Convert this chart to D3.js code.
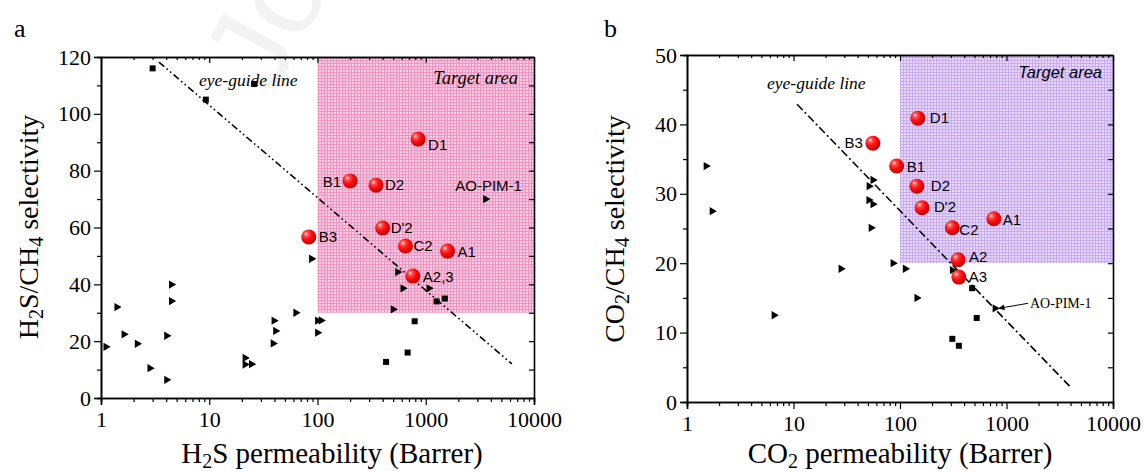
<!DOCTYPE html>
<html>
<head>
<meta charset="utf-8">
<script src="https://cdn.jsdelivr.net/npm/d3@7"></script>
<style>
  body { margin: 0; background: #fff; }
  svg { display: block; }
  text { font-family: "Liberation Serif", "Times New Roman", serif; }
  .sans { font-family: "Liberation Sans", Arial, sans-serif; }
</style>
</head>
<body>
<div class="chart"></div>
<script>
// ---- data ----
var xTicks = [1, 10, 100, 1000, 10000];

// panel a : H2S / CH4
var h2sYTicks = [0, 20, 40, 60, 80, 100, 120];
var h2sTriX = [1.11, 1.40, 1.63, 2.16, 2.83, 4.04, 4.04, 4.47, 4.47, 21.4, 21.4, 24.5, 39.6, 41, 38.9, 63, 88, 100, 108, 100, 550, 615, 1070, 500];
var h2sTriY = [18.0, 32.0, 22.4, 19.1, 10.5, 21.9, 6.4, 39.9, 34.1, 14.1, 11.8, 11.9, 27.2, 23.6, 19.2, 30.0, 49.0, 27.2, 27.3, 23.0, 44.3, 38.6, 38.6, 31.2];
var h2sSqX = [3, 9.3, 26, 1260, 1500, 790, 680, 430];
var h2sSqY = [116, 105, 110.5, 34, 35, 27, 16, 12.7];
var h2sAoX = [3570], h2sAoY = [70];
var h2sMemNames = ["D1", "B1", "D2", "D'2", "B3", "C2", "A1", "A2,3"];
var h2sMemX = [850, 200, 347, 400, 83, 650, 1590, 760];
var h2sMemY = [91.1, 76.4, 74.9, 59.8, 56.7, 53.5, 51.7, 42.9];
var h2sGuideX = [3.43, 6240], h2sGuideY = [118.2, 12.0];
var h2sTargetX = [100, 10000], h2sTargetY = [30, 120];

// panel b : CO2 / CH4
var co2YTicks = [0, 10, 20, 30, 40, 50];
var co2TriX = [1.51, 1.72, 6.56, 27.9, 51.2, 55.7, 51, 55.7, 53.5, 86, 112, 144, 310];
var co2TriY = [34.0, 27.5, 12.5, 19.2, 31.1, 32.0, 29.1, 28.5, 25.1, 20.0, 19.2, 15.0, 19.0];
var co2SqX = [476, 525, 310, 357];
var co2SqY = [16.4, 12.1, 9.1, 8.1];
var co2AoX = [780], co2AoY = [13.5];
var co2MemNames = ["D1", "B3", "B1", "D2", "D'2", "A1", "C2", "A2", "A3"];
var co2MemX = [147, 55.6, 93, 144, 161, 760, 310, 351, 357];
var co2MemY = [40.9, 37.3, 34.0, 31.1, 28.0, 26.4, 25.1, 20.5, 18.0];
var co2GuideX = [10.8, 3960], co2GuideY = [42.9, 2.2];
var co2TargetX = [100, 10000], co2TargetY = [20, 50];

// label offsets (px from sphere centre) - layout only
var h2sLabelOff = [[10, 11], [-9, 6], [9, 5], [8, 5], [10, 5], [8, 5], [10, 6], [10, 6]];
var co2LabelOff = [[12, 5], [-10, 5], [10, 6], [14, 5], [12, 4], [9, 6], [7, 7], [11, 2], [10, 5]];

var W = 1144, H = 473;
var svg = d3.select(".chart").append("svg").attr("width", W).attr("height", H);
var defs = svg.append("defs");

// faint watermark
svg.append("text")
  .attr("transform", "translate(272,98) rotate(-62)")
  .attr("font-size", 120)
  .attr("fill", "#f3f3f3")
  .style("font-family", "Liberation Sans, Arial, sans-serif")
  .text("Journal Pre-proof");

// sphere gradient
var grad = defs.append("radialGradient").attr("id", "ball")
  .attr("cx", "38%").attr("cy", "35%").attr("r", "65%").attr("fx", "32%").attr("fy", "30%");
grad.append("stop").attr("offset", "0%").attr("stop-color", "#ffe8e8");
grad.append("stop").attr("offset", "22%").attr("stop-color", "#ff5050");
grad.append("stop").attr("offset", "55%").attr("stop-color", "#ff0d0d");
grad.append("stop").attr("offset", "100%").attr("stop-color", "#c00000");

// hatched target fills
function makePattern(id, bg, line) {
  var p = defs.append("pattern").attr("id", id).attr("width", 3).attr("height", 3)
    .attr("patternUnits", "userSpaceOnUse");
  p.append("rect").attr("width", 3).attr("height", 3).attr("fill", bg);
  p.append("rect").attr("width", 3).attr("height", 1).attr("fill", line);
  p.append("rect").attr("width", 1).attr("height", 3).attr("fill", line);
}
makePattern("pinkGrid", "#fbcfe3", "#f394c3");
makePattern("purpleGrid", "#e6d9fc", "#c9acf3");

function minorTicks(lo, hi) {
  var out = [];
  for (var d = lo; d < hi; d *= 10) {
    for (var k = 2; k <= 9; k++) out.push(d * k);
  }
  return out;
}

function drawPanel(cfg) {
  var x = d3.scaleLog().domain([1, 10000]).range([cfg.left, cfg.right]);
  var y = d3.scaleLinear().domain(cfg.yDomain).range([cfg.bottom, cfg.top]);
  var g = svg.append("g");

  // target area
  g.append("rect")
    .attr("x", x(cfg.targetX[0]))
    .attr("y", y(cfg.targetY[1]))
    .attr("width", x(cfg.targetX[1]) - x(cfg.targetX[0]))
    .attr("height", y(cfg.targetY[0]) - y(cfg.targetY[1]))
    .attr("fill", "url(#" + cfg.pattern + ")");

  var yMinor = [];
  for (var i = 0; i < cfg.yTicks.length - 1; i++) yMinor.push((cfg.yTicks[i] + cfg.yTicks[i + 1]) / 2);
  var xMinor = minorTicks(1, 10000);

  // bottom axis
  g.append("g").attr("transform", "translate(0," + cfg.bottom + ")")
    .call(d3.axisBottom(x).tickValues(xMinor).tickSize(4).tickFormat(""));
  g.append("g").attr("transform", "translate(0," + cfg.bottom + ")")
    .call(d3.axisBottom(x).tickValues(xTicks).tickSize(7).tickPadding(6).tickFormat(d3.format("d")))
    .attr("font-size", 22);
  // top axis (inward)
  g.append("g").attr("transform", "translate(0," + cfg.top + ")")
    .call(d3.axisTop(x).tickValues(xMinor).tickSizeInner(-3).tickSizeOuter(0).tickFormat(""));
  g.append("g").attr("transform", "translate(0," + cfg.top + ")")
    .call(d3.axisTop(x).tickValues(xTicks).tickSizeInner(-6).tickSizeOuter(0).tickFormat(""));
  // left axis
  g.append("g").attr("transform", "translate(" + cfg.left + ",0)")
    .call(d3.axisLeft(y).tickValues(yMinor).tickSize(4).tickFormat(""));
  g.append("g").attr("transform", "translate(" + cfg.left + ",0)")
    .call(d3.axisLeft(y).tickValues(cfg.yTicks).tickSize(7).tickPadding(3))
    .attr("font-size", 22);
  // right axis (inward)
  g.append("g").attr("transform", "translate(" + cfg.right + ",0)")
    .call(d3.axisRight(y).tickValues(cfg.yTicks.concat(yMinor)).tickSizeInner(-5).tickSizeOuter(0).tickFormat(""));

  g.selectAll(".domain").attr("stroke", "#000").attr("stroke-width", 1.6);
  g.selectAll(".tick line").attr("stroke", "#000").attr("stroke-width", 1.2);
  g.selectAll(".tick text").attr("fill", "#000").style("font-family", "Liberation Serif, Times New Roman, serif");

  // eye guide line
  g.append("line")
    .attr("x1", x(cfg.guideX[0])).attr("y1", y(cfg.guideY[0]))
    .attr("x2", x(cfg.guideX[1])).attr("y2", y(cfg.guideY[1]))
    .attr("stroke", "#000").attr("stroke-width", 1.6)
    .attr("stroke-dasharray", cfg.guideDash);

  // triangles
  var tri = d3.symbol().type(d3.symbolTriangle).size(30);
  g.selectAll(".tri").data(cfg.triX.concat(cfg.aoX)).join("path")
    .attr("d", tri)
    .attr("transform", function (d, i) {
      var yy = i < cfg.triX.length ? cfg.triY[i] : cfg.aoY[i - cfg.triX.length];
      return "translate(" + x(d) + "," + y(yy) + ") rotate(90)";
    })
    .attr("fill", "#000");

  // squares
  g.selectAll(".sq").data(cfg.sqX).join("rect")
    .attr("x", function (d) { return x(d) - 3; })
    .attr("y", function (d, i) { return y(cfg.sqY[i]) - 3; })
    .attr("width", 6).attr("height", 6)
    .attr("fill", "#000");

  // membrane spheres + labels
  g.selectAll(".ball").data(cfg.memX).join("circle")
    .attr("cx", function (d) { return x(d); })
    .attr("cy", function (d, i) { return y(cfg.memY[i]); })
    .attr("r", 7.5)
    .attr("fill", "url(#ball)");
  g.selectAll(".lab").data(cfg.memNames).join("text")
    .attr("class", "sans")
    .attr("x", function (d, i) { return x(cfg.memX[i]) + cfg.labelOff[i][0]; })
    .attr("y", function (d, i) { return y(cfg.memY[i]) + cfg.labelOff[i][1]; })
    .attr("text-anchor", function (d, i) { return cfg.labelOff[i][0] < 0 ? "end" : "start"; })
    .attr("font-size", 15)
    .text(function (d) { return d; });

  return { x: x, y: y, g: g };
}

// ---- panel a ----
var pa = drawPanel({
  left: 101, right: 534, top: 57, bottom: 398,
  yDomain: [0, 120], yTicks: h2sYTicks,
  targetX: h2sTargetX, targetY: h2sTargetY, pattern: "pinkGrid",
  guideX: h2sGuideX, guideY: h2sGuideY, guideDash: "7,3,1.6,3,1.6,3",
  triX: h2sTriX, triY: h2sTriY, aoX: h2sAoX, aoY: h2sAoY,
  sqX: h2sSqX, sqY: h2sSqY,
  memNames: h2sMemNames, memX: h2sMemX, memY: h2sMemY, labelOff: h2sLabelOff
});
pa.g.append("text").attr("class", "sans").attr("x", pa.x(h2sAoX[0]) + 3).attr("y", pa.y(h2sAoY[0]) - 8)
  .attr("text-anchor", "middle").attr("font-size", 15).text("AO-PIM-1");
pa.g.append("text").attr("x", 518).attr("y", 84).attr("text-anchor", "end")
  .attr("font-size", 18.5).attr("font-style", "italic").text("Target area");
pa.g.append("text").attr("x", 199).attr("y", 86)
  .attr("font-size", 17.5).attr("font-style", "italic").text("eye-guide line");
svg.append("text").attr("x", 14).attr("y", 37).attr("font-size", 26).text("a");

var t = svg.append("text").attr("x", 332).attr("y", 463).attr("text-anchor", "middle").attr("font-size", 29);
t.append("tspan").text("H");
t.append("tspan").attr("font-size", 20).attr("dy", 5).text("2");
t.append("tspan").attr("dy", -5).text("S permeability (Barrer)");

t = svg.append("text").attr("transform", "translate(38,227) rotate(-90)").attr("text-anchor", "middle").attr("font-size", 28);
t.append("tspan").text("H");
t.append("tspan").attr("font-size", 20).attr("dy", 5).text("2");
t.append("tspan").attr("dy", -5).text("S/CH");
t.append("tspan").attr("font-size", 20).attr("dy", 5).text("4");
t.append("tspan").attr("dy", -5).text(" selectivity");

// ---- panel b ----
var pb = drawPanel({
  left: 687, right: 1113, top: 55, bottom: 402,
  yDomain: [0, 50], yTicks: co2YTicks,
  targetX: co2TargetX, targetY: co2TargetY, pattern: "purpleGrid",
  guideX: co2GuideX, guideY: co2GuideY, guideDash: "8,3,2,3",
  triX: co2TriX, triY: co2TriY, aoX: co2AoX, aoY: co2AoY,
  sqX: co2SqX, sqY: co2SqY,
  memNames: co2MemNames, memX: co2MemX, memY: co2MemY, labelOff: co2LabelOff
});
var ax = pb.x(co2AoX[0]), ay = pb.y(co2AoY[0]);
defs.append("marker").attr("id", "arrow").attr("viewBox", "0 0 10 10").attr("refX", 9).attr("refY", 5)
  .attr("markerWidth", 7).attr("markerHeight", 6).attr("orient", "auto")
  .append("path").attr("d", "M0,0 L10,5 L0,10 z").attr("fill", "#000");
pb.g.append("line").attr("x1", ax + 33).attr("y1", ay - 5).attr("x2", ax + 4).attr("y2", ay)
  .attr("stroke", "#000").attr("stroke-width", 1).attr("marker-end", "url(#arrow)");
pb.g.append("text").attr("x", ax + 35).attr("y", ay).attr("font-size", 14).text("AO-PIM-1");
pb.g.append("text").attr("class", "sans").attr("x", 1102).attr("y", 78).attr("text-anchor", "end")
  .attr("font-size", 16.5).attr("font-style", "italic").text("Target area");
pb.g.append("text").attr("x", 767).attr("y", 89)
  .attr("font-size", 17.5).attr("font-style", "italic").text("eye-guide line");
svg.append("text").attr("x", 604).attr("y", 37).attr("font-size", 26).text("b");

t = svg.append("text").attr("x", 900).attr("y", 463).attr("text-anchor", "middle").attr("font-size", 29);
t.append("tspan").text("CO");
t.append("tspan").attr("font-size", 20).attr("dy", 5).text("2");
t.append("tspan").attr("dy", -5).text(" permeability (Barrer)");

t = svg.append("text").attr("transform", "translate(624,229) rotate(-90)").attr("text-anchor", "middle").attr("font-size", 28);
t.append("tspan").text("CO");
t.append("tspan").attr("font-size", 20).attr("dy", 5).text("2");
t.append("tspan").attr("dy", -5).text("/CH");
t.append("tspan").attr("font-size", 20).attr("dy", 5).text("4");
t.append("tspan").attr("dy", -5).text(" selectivity");
</script>
</body>
</html>
